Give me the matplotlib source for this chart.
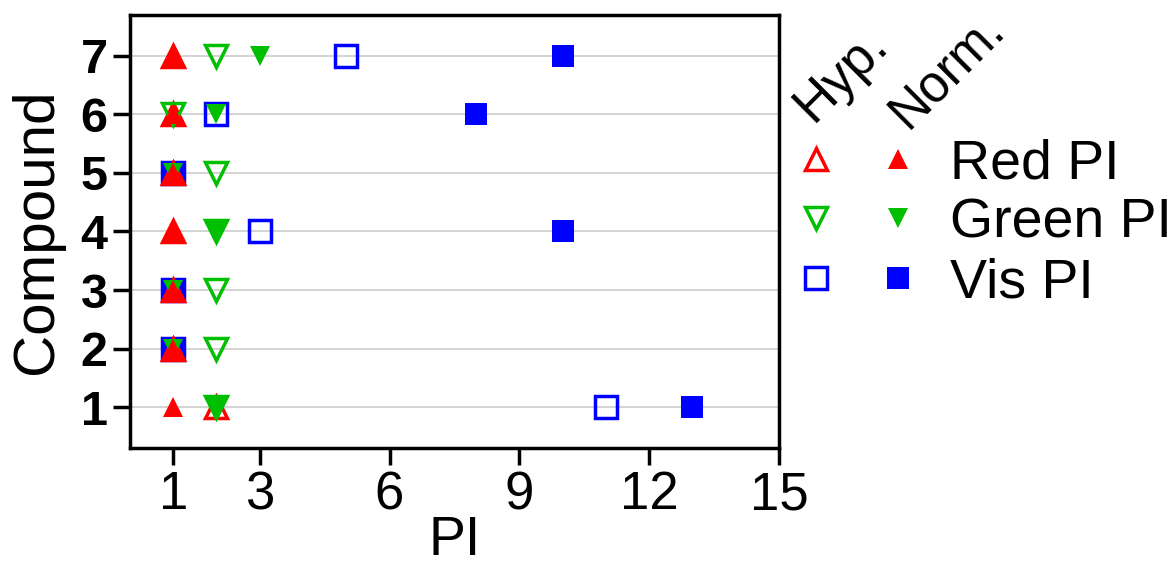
import matplotlib
matplotlib.use("Agg")
import matplotlib.pyplot as plt
from matplotlib.legend_handler import HandlerTuple

plt.rcParams['font.family'] = ['Liberation Sans', 'DejaVu Sans']

# --- data (PI value per compound) ---
compounds = [1, 2, 3, 4, 5, 6, 7]
red_hyp = [2, 1, 1, 1, 1, 1, 1]
red_norm = [1, 1, 1, 1, 1, 1, 1]
green_hyp = [2, 2, 2, 2, 2, 1, 2]
green_norm = [2, 1, 1, 2, 1, 2, 3]
vis_hyp = [11, 1, 1, 3, 1, 2, 5]
vis_norm = [13, 1, 1, 10, 1, 8, 10]

x_ticks = [1, 3, 6, 9, 12, 15]
series_names = ["Red PI", "Green PI", "Vis PI"]

RED = "#ff0000"
GREEN = "#00bf00"
BLUE = "#0000ff"

fig = plt.figure(figsize=(11.75, 5.68), dpi=100)
ax = fig.add_axes([0.1106, 0.2113, 0.5523, 0.7623])

open_kw = dict(linestyle="none", markerfacecolor="none", markersize=16, markeredgewidth=2.5)
fill_kw = dict(linestyle="none", markeredgewidth=0)

# draw order chosen so overlaps look like the original
h_vis_hyp, = ax.plot(vis_hyp, compounds, marker="s", markeredgecolor=BLUE, **open_kw, zorder=3)
h_vis_norm, = ax.plot(vis_norm, compounds, marker="s", color=BLUE, markersize=16, **fill_kw, zorder=3)
h_red_hyp, = ax.plot(red_hyp, compounds, marker="^", markeredgecolor=RED, **open_kw, zorder=3)
h_green_hyp, = ax.plot(green_hyp, compounds, marker="v", markeredgecolor=GREEN, **open_kw, zorder=3)
h_green_norm, = ax.plot(green_norm, compounds, marker="v", color=GREEN, markersize=15, **fill_kw, zorder=3)
h_red_norm, = ax.plot(red_norm, compounds, marker="^", color=RED, markersize=15, **fill_kw, zorder=3)

ax.set_xlim(0, 15)
ax.set_ylim(0.3, 7.7)
ax.set_xticks(x_ticks)
ax.set_yticks(compounds)
ax.set_yticklabels([str(c) for c in compounds], fontweight="bold")
ax.tick_params(axis="x", labelsize=38, length=12, width=2.5, pad=4)
ax.tick_params(axis="y", labelsize=35, length=12, width=2.5, pad=4)
ax.yaxis.grid(True, color="#cccccc", linewidth=1.2)
ax.set_axisbelow(True)
for sp in ax.spines.values():
    sp.set_linewidth(2.5)

ax.set_xlabel("PI", fontsize=40, labelpad=-4)
ax.set_ylabel("Compound", fontsize=42, labelpad=12)

# legend: open (Hyp.) and filled (Norm.) markers side by side
handles = [(h_red_hyp, h_red_norm), (h_green_hyp, h_green_norm), (h_vis_hyp, h_vis_norm)]
ax.legend(handles, series_names, handler_map={tuple: HandlerTuple(ndivide=None, pad=0)},
          loc="upper left", bbox_to_anchor=(0.66, 0.757), bbox_transform=fig.transFigure,
          frameon=False, fontsize=40, handlelength=2.95, handletextpad=0.2,
          labelspacing=0.14, borderpad=0, borderaxespad=0, numpoints=1)

fig.text(813 / 1175, 1 - 123 / 568, "Hyp.", fontsize=38, rotation=45,
         rotation_mode="anchor", ha="left", va="baseline")
fig.text(907 / 1175, 1 - 130 / 568, "Norm.", fontsize=37, rotation=45,
         rotation_mode="anchor", ha="left", va="baseline")

fig.savefig("out.png", dpi=100)
